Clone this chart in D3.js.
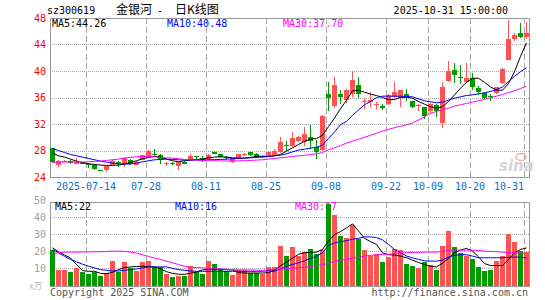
<!DOCTYPE html>
<html>
<head>
<meta charset="utf-8">
<script src="https://cdn.jsdelivr.net/npm/d3@7"></script>
<style>
  html, body { margin: 0; padding: 0; background: #fff; }
  svg { display: block; font-family: "DejaVu Sans Mono", monospace; }
</style>
</head>
<body>
<svg id="kline" width="545" height="300"></svg>
<script>
// trading days shown on the chart
const dates = [
  '2025-07-04', '2025-07-07', '2025-07-08', '2025-07-09', '2025-07-10', '2025-07-11', '2025-07-14', '2025-07-15',
  '2025-07-16', '2025-07-17', '2025-07-18', '2025-07-21', '2025-07-22', '2025-07-23', '2025-07-24', '2025-07-25',
  '2025-07-28', '2025-07-29', '2025-07-30', '2025-07-31', '2025-08-01', '2025-08-04', '2025-08-05', '2025-08-06',
  '2025-08-07', '2025-08-08', '2025-08-11', '2025-08-12', '2025-08-13', '2025-08-14', '2025-08-15', '2025-08-18',
  '2025-08-19', '2025-08-20', '2025-08-21', '2025-08-22', '2025-08-25', '2025-08-26', '2025-08-27', '2025-08-28',
  '2025-08-29', '2025-09-01', '2025-09-02', '2025-09-03', '2025-09-04', '2025-09-05', '2025-09-08', '2025-09-09',
  '2025-09-10', '2025-09-11', '2025-09-12', '2025-09-15', '2025-09-16', '2025-09-17', '2025-09-18', '2025-09-19',
  '2025-09-22', '2025-09-23', '2025-09-24', '2025-09-25', '2025-09-26', '2025-09-29', '2025-09-30', '2025-10-09',
  '2025-10-10', '2025-10-13', '2025-10-14', '2025-10-15', '2025-10-16', '2025-10-17', '2025-10-20', '2025-10-21',
  '2025-10-22', '2025-10-23', '2025-10-24', '2025-10-27', '2025-10-28', '2025-10-29', '2025-10-30', '2025-10-31'
];

const open = [
  28.35, 25.8, 26.3, 26.4, 26.0, 26.2, 26.0, 25.75, 25.05, 25.0,
  25.85, 26.2, 25.9, 26.6, 25.85, 26.55, 27.2, 27.5, 27.3, 25.95,
  26.1, 25.6, 26.2, 26.6, 27.1, 26.9, 26.7, 27.8, 27.4, 27.0,
  26.2, 26.8, 27.35, 27.7, 27.5, 26.9, 27.1, 27.3, 27.7, 28.9,
  28.7, 29.5, 29.3, 30.0, 28.6, 28.1, 36.5, 34.7, 36.6, 35.6,
  36.55, 37.9, 35.3, 35.35, 34.85, 34.75, 35.0, 36.1, 36.0, 36.6,
  35.4, 34.7, 34.5, 33.9, 34.8, 32.1, 38.5, 40.15, 39.05, 38.4,
  38.9, 37.5, 36.7, 36.2, 36.7, 38.2, 41.7, 44.9, 45.8, 45.1
];
const high = [
  28.45, 26.55, 26.6, 26.5, 26.9, 26.3, 26.1, 25.9, 25.1, 25.65,
  26.5, 26.4, 27.0, 26.65, 26.35, 27.35, 28.1, 28.3, 27.4, 26.3,
  26.2, 26.3, 26.4, 27.5, 27.2, 27.1, 27.4, 28.0, 27.45, 27.2,
  26.85, 27.5, 27.6, 27.8, 27.6, 27.2, 27.75, 28.2, 30.0, 29.5,
  30.8, 30.2, 31.6, 31.85, 29.6, 33.3, 38.4, 39.1, 37.1, 37.3,
  40.0, 39.1, 35.9, 36.9, 35.3, 35.0, 36.6, 38.4, 37.2, 37.3,
  35.5, 35.0, 34.6, 35.1, 35.0, 38.4, 41.5, 41.2, 40.9, 41.2,
  39.65, 37.8, 36.8, 36.6, 37.6, 40.4, 47.7, 45.8, 47.2, 47.45
];
const low = [
  26.1, 25.45, 26.2, 25.9, 25.9, 25.9, 25.4, 25.1, 24.95, 24.8,
  25.8, 25.5, 25.5, 25.95, 25.8, 26.5, 27.1, 27.0, 25.9, 25.7,
  25.8, 25.05, 25.9, 26.5, 26.7, 26.3, 26.5, 27.4, 26.9, 26.5,
  26.1, 26.7, 27.2, 27.1, 26.8, 26.8, 27.0, 27.2, 27.6, 28.0,
  28.5, 29.3, 28.7, 28.3, 26.7, 28.0, 34.0, 34.4, 35.05, 35.2,
  36.1, 36.0, 34.2, 34.6, 34.3, 34.1, 34.9, 35.9, 34.6, 35.4,
  34.4, 34.0, 32.7, 33.7, 33.0, 31.35, 38.4, 38.2, 38.1, 38.2,
  37.1, 36.4, 35.7, 35.5, 36.5, 38.1, 41.6, 44.6, 45.0, 44.9
];
const close = [
  26.2, 26.45, 26.4, 26.1, 26.3, 26.0, 25.9, 25.2, 24.95, 25.6,
  26.45, 26.1, 26.9, 26.0, 26.3, 27.3, 28.0, 27.3, 26.5, 26.1,
  26.0, 26.2, 26.0, 27.2, 26.95, 26.6, 27.3, 27.5, 27.0, 26.9,
  26.8, 27.4, 27.5, 27.3, 27.0, 27.1, 27.7, 28.0, 29.3, 28.7,
  29.85, 30.0, 30.5, 29.5, 27.8, 33.2, 35.95, 37.9, 36.1, 37.1,
  38.6, 36.5, 35.45, 35.6, 34.95, 34.4, 36.4, 36.9, 37.1, 36.1,
  34.6, 34.8, 33.2, 35.0, 33.9, 37.6, 40.0, 39.4, 38.95, 38.9,
  37.6, 36.9, 35.9, 36.1, 37.55, 40.3, 44.9, 45.5, 45.2, 45.7
];

// moving averages as drawn on the chart
const ma5 = [
  27.6, 27.2, 27.0, 26.7, 26.4, 26.15, 26.0, 25.9, 25.8, 25.75,
  25.75, 25.8, 25.95, 26.2, 26.45, 26.75, 26.95, 27.1, 27.0, 26.7,
  26.45, 26.3, 26.45, 26.55, 26.65, 26.7, 26.9, 27.0, 27.05, 27.0,
  26.9, 26.85, 26.85, 26.95, 27.1, 27.15, 27.1, 27.2, 27.4, 27.9,
  28.4, 28.9, 29.4, 29.7, 29.8, 30.3, 31.6, 32.9, 34.3, 35.6,
  37.0, 37.1, 36.8, 36.5, 36.3, 36.0, 35.7, 35.7, 36.0, 36.05,
  35.9, 35.4, 35.0, 34.6, 34.4, 34.6, 35.4, 36.4, 37.4, 38.3,
  38.9, 38.9, 38.3, 37.6, 37.1, 37.1, 38.1, 39.9, 42.2, 44.26
];
const ma10 = [
  28.3, 28.0, 27.7, 27.4, 27.2, 27.0, 26.8, 26.6, 26.4, 26.25,
  26.1, 26.0, 25.95, 25.95, 26.1, 26.3, 26.45, 26.6, 26.65, 26.7,
  26.65, 26.6, 26.57, 26.55, 26.55, 26.57, 26.6, 26.62, 26.65, 26.7,
  26.75, 26.8, 26.85, 26.9, 26.95, 27.05, 27.1, 27.2, 27.3, 27.5,
  27.8, 28.05, 28.2, 28.35, 28.5, 28.8, 29.8, 30.8, 31.9, 32.4,
  33.3, 34.1, 34.9, 35.4, 36.0, 36.2, 36.2, 36.2, 36.2, 36.15,
  36.1, 35.8, 35.5, 35.35, 35.2, 35.3, 35.6, 35.9, 36.1, 36.3,
  36.4, 36.55, 36.7, 36.9, 37.2, 37.6, 38.4, 39.2, 39.9, 40.48
];
const ma30 = [
  26.2, 26.25, 26.27, 26.27, 26.27, 26.27, 26.3, 26.35, 26.4, 26.5,
  26.6, 26.7, 26.85, 26.95, 27.05, 27.1, 27.1, 27.05, 26.95, 26.9,
  26.85, 26.75, 26.65, 26.6, 26.55, 26.5, 26.46, 26.45, 26.43, 26.42,
  26.42, 26.44, 26.46, 26.5, 26.55, 26.6, 26.7, 26.8, 26.9, 27.0,
  27.1, 27.2, 27.27, 27.4, 27.5, 27.7, 28.1, 28.4, 28.75, 29.1,
  29.4, 29.7, 30.0, 30.3, 30.6, 30.95, 31.2, 31.45, 31.65, 31.9,
  32.15, 32.6, 33.1, 33.6, 33.9, 34.15, 34.4, 34.7, 34.9, 35.1,
  35.3, 35.5, 35.7, 35.95, 36.2, 36.45, 36.75, 37.0, 37.35, 37.7
];

// volume, in 10k lots
const volume = [
  20.5, 8.8, 8.8, 8.0, 10.0, 7.7, 6.4, 8.0, 5.2, 7.3,
  14.0, 7.7, 13.6, 10.0, 8.6, 13.6, 14.2, 10.8, 10.8, 6.8,
  4.6, 5.2, 5.2, 11.2, 7.7, 6.6, 14.2, 12.8, 9.6, 8.2,
  6.3, 8.8, 9.1, 7.3, 7.3, 6.6, 10.6, 10.6, 23.1, 17.1,
  22.5, 17.1, 19.5, 21.1, 18.2, 20.5, 47.9, 41.4, 29.1, 27.7,
  35.6, 27.1, 20.5, 17.1, 18.2, 13.6, 16.5, 21.1, 20.5, 12.8,
  11.2, 10.0, 13.6, 12.2, 8.8, 23.1, 32.0, 22.5, 19.2, 17.1,
  15.2, 10.6, 8.2, 9.2, 14.2, 17.1, 30.5, 25.5, 20.1, 19.5
];
const volMa5 = [
  22.1, 19.7, 17.8, 16.0, 12.2, 8.6, 8.2, 8.2, 7.0, 6.8,
  7.6, 9.2, 10.4, 10.8, 11.0, 11.2, 11.0, 10.8, 9.6, 8.0,
  7.0, 6.45, 6.45, 7.0, 7.8, 9.0, 9.4, 9.4, 9.4, 9.2,
  9.0, 7.4, 7.2, 7.2, 7.2, 7.2, 7.4, 8.8, 11.4, 13.6,
  16.0, 18.2, 19.15, 19.35, 19.55, 21.1, 26.1, 29.9, 31.65, 33.8,
  36.2, 32.05, 27.7, 25.7, 24.1, 19.15, 18.0, 17.8, 17.2, 16.2,
  14.8, 13.4, 12.2, 11.2, 10.8, 13.0, 15.8, 19.15, 20.7, 21.7,
  20.1, 16.8, 12.8, 11.6, 11.6, 11.6, 15.2, 19.15, 21.1, 22.0
];
const volMa10 = [
  21.1, 19.15, 17.0, 15.2, 13.8, 12.4, 11.2, 10.2, 9.2, 8.8,
  8.4, 8.4, 8.8, 9.2, 9.6, 10.2, 10.8, 10.8, 10.8, 10.8,
  10.0, 9.2, 8.8, 8.4, 8.2, 8.2, 8.2, 8.2, 8.2, 8.2,
  8.2, 8.2, 8.2, 8.2, 8.2, 8.2, 8.6, 8.2, 9.6, 11.2,
  12.2, 13.2, 14.4, 15.8, 17.2, 19.15, 23.5, 24.9, 25.7, 26.3,
  27.1, 27.7, 28.5, 28.5, 28.1, 26.7, 24.1, 21.1, 19.15, 17.2,
  16.2, 15.2, 14.4, 14.2, 14.2, 14.8, 16.6, 17.6, 18.0, 18.0,
  17.2, 16.2, 16.2, 16.2, 16.2, 16.2, 16.4, 16.6, 16.6, 16.0
];
const volMa30 = [
  18.75, 19.15, 19.55, 19.55, 19.55, 19.65, 19.65, 19.75, 19.75, 19.95,
  20.1, 20.1, 19.95, 19.55, 18.95, 17.95, 17.0, 16.0, 15.2, 14.2,
  13.2, 12.2, 11.2, 10.6, 10.4, 10.2, 10.0, 9.8, 9.6, 9.4,
  9.2, 9.1, 9.0, 9.0, 8.9, 8.8, 9.0, 9.4, 9.6, 9.8,
  10.0, 10.4, 10.6, 11.0, 11.6, 12.2, 13.0, 14.0, 14.6, 15.4,
  16.0, 16.6, 17.2, 17.6, 17.8, 18.2, 18.2, 18.75, 19.15, 19.15,
  19.35, 19.35, 19.55, 19.55, 19.55, 19.95, 20.5, 20.7, 20.7, 20.7,
  20.7, 20.5, 20.1, 19.95, 19.75, 19.55, 19.35, 19.15, 18.95, 18.75
];

const priceTicks = [24, 28, 32, 36, 40, 44, 48];
const volTicks = [10, 20, 30, 40, 50];
const dateTicks = ['2025-07-14', '2025-07-28', '2025-08-11', '2025-08-25', '2025-09-08',
  '2025-09-22', '2025-10-09', '2025-10-20', '2025-10-31'];

const RED = '#ff5353';
const GREEN = '#009b00';
const GRID = '#a8a8a8';

const svg = d3.select('#kline');
const x = d3.scaleLinear().domain([0, dates.length]).range([50, 530]);
const y = d3.scaleLinear().domain([24, 48]).range([177, 18]);
const yv = d3.scaleLinear().domain([0, 50]).range([285.2, 200.5]);
const isUp = (i) => close[i] >= open[i];
const cx = (i) => x(i) + 2.5;

// header
svg.append('text').attr('x', 47).attr('y', 13.5).attr('font-size', 10).text('sz300619');
svg.append('text').attr('x', 116).attr('y', 14).attr('font-size', 12)
  .attr('font-family', '"Noto Sans CJK SC", sans-serif').text('金银河');
svg.append('text').attr('x', 157).attr('y', 13.5).attr('font-size', 10).text('-');
svg.append('text').attr('x', 175).attr('y', 14).attr('font-size', 12)
  .attr('font-family', '"Noto Sans CJK SC", sans-serif').text('日K线图');
svg.append('text').attr('x', 508).attr('y', 13.5).attr('font-size', 10)
  .attr('text-anchor', 'end').text('2025-10-31 15:00:00');

// grids
const gridIdx = dateTicks.map((d) => dates.indexOf(d));

function panelGrid(top, bottom, hLines) {
  const g = svg.append('g');
  g.selectAll('.h').data(hLines).join('line')
    .attr('x1', 50).attr('x2', 529)
    .attr('y1', (d) => d).attr('y2', (d) => d)
    .attr('stroke', GRID).attr('stroke-dasharray', '1,1');
  g.selectAll('.v').data(gridIdx).join('line')
    .attr('x1', (i) => x(i) + 0.5).attr('x2', (i) => x(i) + 0.5)
    .attr('y1', top).attr('y2', bottom)
    .attr('stroke', GRID).attr('stroke-dasharray', '6,3');
  g.append('rect').attr('x', 50.5).attr('y', top + 0.5)
    .attr('width', 479).attr('height', bottom - top)
    .attr('fill', 'none').attr('stroke', '#999');
}

panelGrid(18, 177, priceTicks.slice(1, -1).map((t) => Math.round(y(t)) + 0.5));
panelGrid(202, 286, volTicks.slice(0, -1).map((t) => Math.round(yv(t)) + 0.5));

// axis labels
svg.append('g').selectAll('text').data(priceTicks).join('text')
  .attr('x', 46).attr('y', (d) => y(d) + 3.5)
  .attr('text-anchor', 'end').attr('font-size', 10).attr('fill', '#f00')
  .text((d) => d);

svg.append('g').selectAll('text').data(volTicks).join('text')
  .attr('x', 46).attr('y', (d) => yv(d) + 3.5)
  .attr('text-anchor', 'end').attr('font-size', 10).attr('fill', '#a0a0a0')
  .text((d) => d);

svg.append('text').attr('x', 29).attr('y', 289).attr('font-size', 9)
  .attr('fill', '#b8b8b8').attr('font-family', '"Noto Sans CJK SC", sans-serif').text('x万');

// date labels, the last one is pulled inside the frame
const lastTick = gridIdx.length - 1;
svg.append('g').selectAll('text').data(gridIdx).join('text')
  .attr('x', (i, k) => (k === lastTick ? x(i) : x(i)))
  .attr('y', 189.5)
  .attr('text-anchor', (i, k) => (k === lastTick ? 'end' : 'middle'))
  .attr('font-size', 10).attr('fill', '#0a6fc8')
  .text((i, k) => (k === 0 ? dates[i] : dates[i].slice(5)));

// sina watermark
svg.append('text').attr('x', 499).attr('y', 171).attr('font-size', 15)
  .attr('font-family', 'Verdana, "DejaVu Sans", sans-serif').attr('font-weight', 'bold')
  .attr('font-style', 'italic').attr('fill', '#d6d6d6').text('sina');
svg.append('ellipse').attr('cx', 521).attr('cy', 157).attr('rx', 5).attr('ry', 3.5)
  .attr('fill', 'none').attr('stroke', '#f2b0b0').attr('stroke-width', 1.5);

// MA legends (drawn before marks, bars may cover them)
const legend = (xp, yp, color, txt) => svg.append('text').attr('x', xp).attr('y', yp)
  .attr('font-size', 10).attr('fill', color).text(txt);
legend(52, 26.5, '#000', 'MA5:44.26');
legend(167, 26.5, '#0000ff', 'MA10:40.48');
legend(283, 26.5, '#ff00ff', 'MA30:37.70');
legend(55, 210, '#000', 'MA5:22');
legend(175, 210, '#0000ff', 'MA10:16');
legend(295, 210, '#ff00ff', 'MA30:17');

// candles
const idx = d3.range(dates.length);
const candles = svg.append('g');
candles.selectAll('line').data(idx).join('line')
  .attr('x1', cx).attr('x2', cx)
  .attr('y1', (i) => Math.round(y(high[i]))).attr('y2', (i) => Math.round(y(low[i])))
  .attr('stroke', (i) => (isUp(i) ? RED : GREEN));
candles.selectAll('rect').data(idx).join('rect')
  .attr('x', (i) => x(i)).attr('width', 5)
  .attr('y', (i) => Math.round(y(Math.max(open[i], close[i]))))
  .attr('height', (i) => Math.max(1,
    Math.round(y(Math.min(open[i], close[i]))) - Math.round(y(Math.max(open[i], close[i])))))
  .attr('fill', (i) => (isUp(i) ? RED : GREEN));

// volume bars
svg.append('g').selectAll('rect').data(idx).join('rect')
  .attr('x', (i) => x(i)).attr('width', 5)
  .attr('y', (i) => Math.round(yv(volume[i])))
  .attr('height', (i) => 286 - Math.round(yv(volume[i])))
  .attr('fill', (i) => (isUp(i) ? RED : GREEN));

// MA lines
const priceLine = d3.line().x((d, i) => cx(i)).y((d) => y(d));
const volLine = d3.line().x((d, i) => cx(i)).y((d) => yv(d));
[[ma5, '#000'], [ma10, '#0000ff'], [ma30, '#ff00ff']].forEach(([s, c]) => {
  svg.append('path').attr('d', priceLine(s)).attr('fill', 'none').attr('stroke', c);
});
[[volMa5, '#000'], [volMa10, '#0000ff'], [volMa30, '#ff00ff']].forEach(([s, c]) => {
  svg.append('path').attr('d', volLine(s)).attr('fill', 'none').attr('stroke', c);
});

// footer
svg.append('text').attr('x', 50).attr('y', 296).attr('font-size', 10)
  .attr('fill', '#555').text('Copyright 2025 SINA.COM');
svg.append('text').attr('x', 528).attr('y', 296).attr('font-size', 10)
  .attr('text-anchor', 'end').attr('fill', '#555').text('http://finance.sina.com.cn');
</script>
</body>
</html>
